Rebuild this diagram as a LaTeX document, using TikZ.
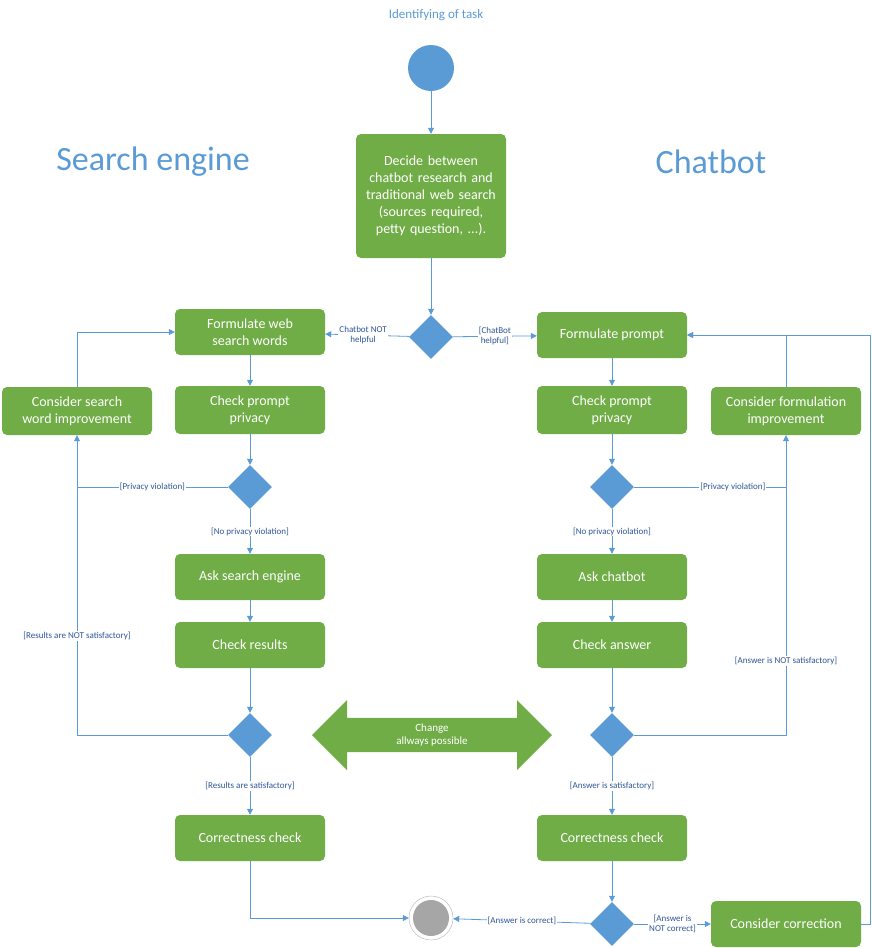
\documentclass[tikz,border=0pt]{standalone}
\usepackage{fontspec}
\setmainfont{Carlito}
\usetikzlibrary{shapes.geometric,shapes.arrows,arrows.meta}
\definecolor{actgreen}{HTML}{70AD47}
\definecolor{flowblue}{HTML}{5B9BD5}
\definecolor{labelblue}{HTML}{2F5597}
\begin{document}
\begin{tikzpicture}[
                    x=1pt, y=-1pt,
                    act/.style={
                        rectangle,
                        rounded corners=5pt,
                        fill=actgreen,
                        text=white,
                        minimum width=150pt,
                        minimum height=46pt,
                        align=center,
                        font=\fontsize{14}{17}\selectfont
                    },
                    dec/.style={
                        diamond,
                        fill=flowblue,
                        minimum width=44pt,
                        minimum height=44pt,
                        inner sep=0pt
                    },
                    flow/.style={draw=flowblue, line width=0.8pt, -{Triangle[length=6pt,width=6pt]}},
                    line/.style={draw=flowblue, line width=0.8pt},
                    guard/.style={text=labelblue, font=\fontsize{9}{10}\selectfont, align=center, fill=white, inner sep=1pt},
                    head/.style={text=flowblue, font=\fontsize{34}{40}\selectfont}
                ]
                    \useasboundingbox (0,0) rectangle (872,948);
                    
                    \node[text=flowblue, font=\fontsize{13}{15}\selectfont] (title) at (436,15) {Identifying of task};
                    \node[head] (hse) at (153,162) {Search engine};
                    \node[head] (hcb) at (711,162) {Chatbot};
                    
                    \node[circle, fill=flowblue, minimum size=46pt] (start) at (431,68) {};
                    \node[act, minimum height=124pt, text width=140pt] (decide) at (431,196) {Decide between chatbot research and traditional web search\\(sources required, petty question, ...).};
                    \node[dec] (d0) at (431,337) {};
                    
                    % Search engine side
                    \node[act] (fweb) at (250,332) {Formulate web\\search words};
                    \node[act, minimum height=48pt] (cpl) at (250,410) {Check prompt\\privacy};
                    \node[dec] (dl1) at (250,487) {};
                    \node[act] (ase) at (250,577) {Ask search engine};
                    \node[act] (cres) at (250,645) {Check results};
                    \node[dec] (dl2) at (250,735) {};
                    \node[act] (ccl) at (250,838) {Correctness check};
                    \node[act, minimum height=48pt] (csw) at (77,411) {Consider search\\word improvement};
                    
                    % Chatbot side
                    \node[act] (fpr) at (612,335) {Formulate prompt};
                    \node[act, minimum height=48pt] (cpr) at (612,410) {Check prompt\\privacy};
                    \node[dec] (dr1) at (612,487) {};
                    \node[act] (ach) at (612,577) {Ask chatbot};
                    \node[act] (cans) at (612,645) {Check answer};
                    \node[dec] (dr2) at (612,735) {};
                    \node[act] (ccr) at (612,838) {Correctness check};
                    \node[dec] (dr3) at (612,924) {};
                    \node[act] (ccor) at (786,924) {Consider correction};
                    \node[act, minimum height=48pt] (cfi) at (786,411) {Consider formulation\\improvement};
                    
                    \node[circle, draw=gray!60, fill=white, minimum size=44pt] (endo) at (431,918) {};
                    \node[circle, fill=gray!70, minimum size=36pt] (end) at (431,918) {};
                    
                    \node[double arrow, fill=actgreen, text=white, minimum width=70pt, minimum height=240pt,
                          double arrow head extend=12pt, inner sep=0pt, align=center,
                          font=\fontsize{11}{13}\selectfont] (chg) at (432,735) {Change\\allways possible};
                    
                    \coordinate (lc1) at (77,487);
                    \coordinate (lc2) at (77,735);
                    \coordinate (lc3) at (77,332);
                    \coordinate (rc1) at (786,487);
                    \coordinate (rc2) at (786,735);
                    \coordinate (rc3) at (786,335);
                    \coordinate (rc4) at (870,924);
                    \coordinate (rc5) at (870,335);
                    \coordinate (ec) at (250,918);
                    
                    % Edges
                    \draw[flow] (start) -- (decide);
                    \draw[flow] (decide) -- (d0);
                    \draw[flow] (d0) -- node[guard, pos=0.55] {Chatbot NOT\\helpful} (fweb);
                    \draw[flow] (d0) -- node[guard, pos=0.5] {[ChatBot\\helpful]} (fpr);
                    
                    \draw[flow] (fweb) -- (cpl);
                    \draw[flow] (cpl) -- (dl1);
                    \draw[flow] (dl1) -- node[guard] {[No privacy violation]} (ase);
                    \draw[flow] (ase) -- (cres);
                    \draw[flow] (cres) -- (dl2);
                    \draw[flow] (dl2) -- node[guard] {[Results are satisfactory]} (ccl);
                    \draw[line] (dl2) -- (lc2) -- node[guard, pos=0.4] {[Results are NOT satisfactory]} (lc1);
                    \draw[flow] (dl1) -- node[guard] {[Privacy violation]} (lc1) -- (csw);
                    \draw[flow] (csw) -- (lc3) -- (fweb);
                    \draw[flow] (ccl) |- (endo);
                    
                    \draw[flow] (fpr) -- (cpr);
                    \draw[flow] (cpr) -- (dr1);
                    \draw[flow] (dr1) -- node[guard] {[No privacy violation]} (ach);
                    \draw[flow] (ach) -- (cans);
                    \draw[flow] (cans) -- (dr2);
                    \draw[flow] (dr2) -- node[guard] {[Answer is satisfactory]} (ccr);
                    \draw[line] (dr2) -- (rc2) -- node[guard, pos=0.3] {[Answer is NOT satisfactory]} (rc1);
                    \draw[flow] (dr1) -- node[guard, pos=0.65] {[Privacy violation]} (rc1) -- (cfi);
                    \draw[flow] (cfi) -- (rc3) -- (fpr);
                    \draw[flow] (ccr) -- (dr3);
                    \draw[flow] (dr3) -- node[guard] {[Answer is correct]} (endo);
                    \draw[flow] (dr3) -- node[guard] {[Answer is\\NOT correct]} (ccor);
                    \draw[flow] (ccor) -- (rc4) -- (rc5) -- (fpr);
                \end{tikzpicture}
\end{document}
